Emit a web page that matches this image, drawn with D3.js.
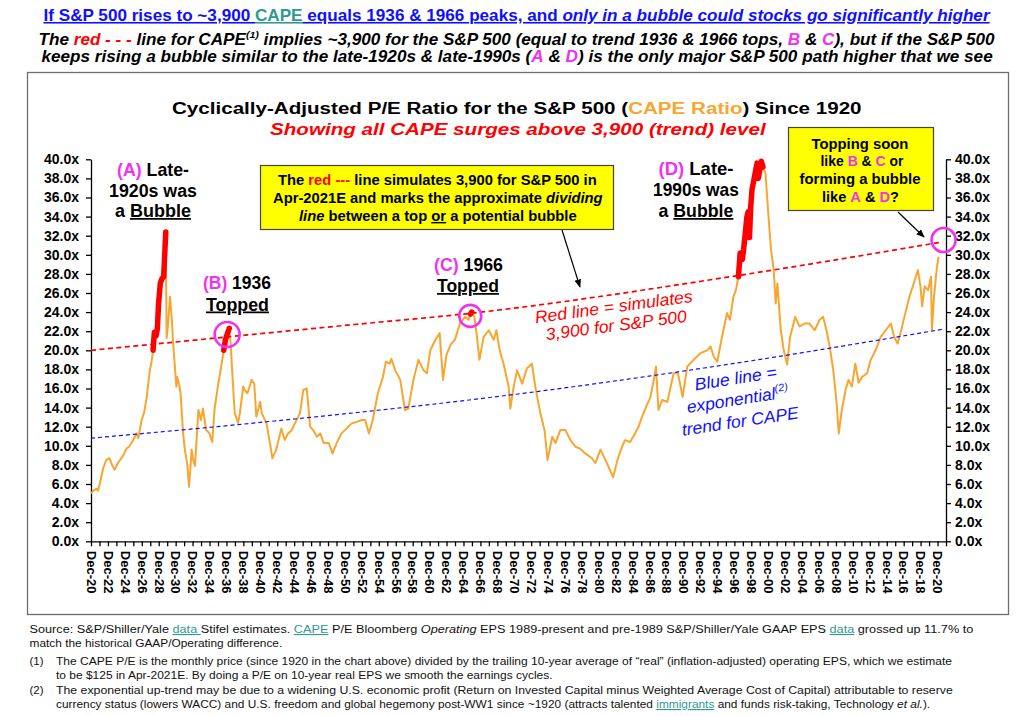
<!DOCTYPE html>
<html><head><meta charset="utf-8">
<script src="https://cdn.jsdelivr.net/npm/d3@7"></script>
<style>body{margin:0;background:#fff;}svg{display:block;}</style>
</head><body>
<svg id="c" width="1032" height="716"></svg>
<script>
// ---------------- DATA ----------------
const capeYears = [1920.92,1921.2,1921.55,1921.75,1922.0,1922.34,1922.7,1923.1,1923.4,1923.7,1924.1,1924.5,1924.8,1925.1,1925.4,1925.7,1926.0,1926.3,1926.5,1926.9,1927.2,1927.5,1927.85,1928.1,1928.25,1928.4,1928.6,1928.75,1928.9,1929.1,1929.3,1929.5,1929.65,1929.75,1929.85,1930.0,1930.25,1930.45,1930.6,1930.85,1931.0,1931.1,1931.3,1931.5,1931.8,1932.0,1932.3,1932.5,1932.65,1932.8,1933.0,1933.2,1933.45,1933.6,1933.9,1934.15,1934.5,1934.9,1935.25,1935.5,1935.95,1936.3,1936.6,1936.8,1937.05,1937.25,1937.45,1937.55,1937.75,1937.9,1938.3,1938.5,1938.9,1939.1,1939.4,1939.9,1940.2,1940.45,1940.9,1941.1,1941.65,1942.05,1942.35,1942.8,1943.4,1943.8,1944.2,1944.6,1945.0,1945.6,1946.0,1946.4,1946.6,1946.8,1947.2,1947.6,1948.0,1948.4,1949.0,1949.45,1949.95,1950.5,1951.1,1951.7,1952.3,1952.9,1953.3,1953.75,1954.2,1954.8,1955.4,1955.75,1956.2,1956.4,1956.85,1957.45,1958.0,1958.4,1959.0,1959.6,1960.2,1960.6,1961.0,1961.6,1962.1,1962.5,1962.9,1963.4,1963.9,1964.5,1965.1,1965.5,1965.75,1965.9,1966.2,1966.5,1966.8,1967.3,1967.9,1968.5,1968.8,1969.2,1969.65,1970.25,1970.45,1970.85,1971.25,1971.85,1972.4,1973.0,1973.4,1974.0,1974.5,1974.85,1975.4,1975.8,1976.35,1976.95,1977.55,1978.15,1978.7,1979.3,1980.1,1980.5,1981.1,1981.7,1982.2,1982.6,1983.1,1983.65,1984.0,1984.6,1985.0,1985.6,1986.0,1986.4,1987.0,1987.4,1987.65,1987.95,1988.4,1989.0,1989.4,1989.75,1990.25,1990.5,1990.8,1991.35,1992.1,1992.9,1993.7,1994.1,1994.5,1994.9,1995.45,1996.05,1996.4,1996.8,1997.1,1997.4,1997.6,1997.85,1998.0,1998.2,1998.4,1998.55,1998.7,1998.85,1999.0,1999.3,1999.6,1999.75,2000.1,2000.3,2000.6,2000.95,2001.25,2001.55,2001.8,2002.0,2002.4,2002.75,2003.15,2003.5,2004.1,2004.6,2005.2,2005.8,2006.4,2007.0,2007.4,2007.8,2008.25,2008.6,2009.0,2009.25,2009.6,2010.05,2010.4,2010.8,2011.2,2011.6,2012.0,2012.6,2013.0,2013.6,2014.2,2014.8,2015.4,2015.8,2016.2,2016.6,2017.0,2017.6,2018.1,2018.6,2018.9,2019.1,2019.4,2019.8,2020.15,2020.25,2020.5,2020.85,2021.05];
const capeValues = [5.0,5.3,5.5,5.3,6.2,7.6,8.5,8.7,8.0,7.5,8.2,8.7,9.1,9.7,9.9,10.3,10.8,11.3,10.8,12.7,13.5,15.1,17.8,19.0,20.0,21.9,21.5,22.2,24.9,27.0,27.5,27.7,30.5,32.4,21.3,22.5,25.6,23.5,21.0,18.0,16.2,17.2,16.5,15.5,11.3,9.6,8.0,5.7,7.5,9.6,8.5,7.9,11.5,13.75,12.7,13.9,11.7,11.3,10.4,13.75,16.5,18.3,20.0,21.1,21.8,22.3,20.2,18.5,15.5,13.4,12.4,13.4,16.2,15.8,15.5,16.9,16.5,13.05,14.6,13.4,12.35,10.3,8.7,9.6,11.8,10.6,11.3,11.6,12.35,13.4,15.85,16.0,14.1,12.0,11.6,10.95,11.3,10.3,10.3,9.2,10.3,11.3,11.8,12.35,12.5,12.7,12.7,11.3,12.7,15.5,17.2,18.8,18.6,19.1,17.9,16.9,13.75,13.9,16.9,19.0,17.9,17.6,20.0,21.1,21.8,16.9,19.5,20.6,21.1,22.8,23.5,23.2,23.8,24.0,23.5,21.5,19.0,21.4,22.1,21.1,22.1,20.0,18.6,16.2,13.9,16.2,17.9,16.5,18.1,18.6,16.2,13.4,11.6,8.5,10.95,10.3,11.65,11.65,10.6,9.9,9.7,9.2,8.7,8.2,9.6,8.5,7.5,6.7,8.5,9.9,10.6,10.4,11.0,12.0,13.0,13.9,15.1,16.9,18.3,13.75,14.8,14.6,16.2,17.6,17.6,16.5,15.1,18.3,19.0,19.7,20.0,20.4,19.3,18.8,21.4,23.9,23.2,25.6,26.3,27.7,30.2,29.5,30.5,32.2,34.0,34.5,31.8,35.0,36.8,38.2,39.6,38.0,39.8,39.2,38.5,34.0,30.5,28.6,24.9,27.0,22.1,20.0,18.5,21.4,23.5,22.5,22.8,22.8,22.1,23.2,23.5,22.1,20.0,17.9,14.45,11.3,13.7,15.85,16.9,16.2,18.6,16.6,17.2,17.6,18.95,20.0,21.4,22.1,22.8,21.4,20.7,22.0,23.5,25.6,27.0,28.4,26.7,24.6,26.7,26.3,27.7,22.1,25.6,28.75,29.8];

// red dashed "3,900 for S&P 500" line and blue dashed exponential trend
const redTrendYears  = [1920.92, 1952.0, 1966.0, 1996.4, 2021.5];
const redTrendValues = [20.0, 22.7, 23.9, 27.7, 31.35];
const blueTrendYears  = [1920.92, 1939.8, 1972.9, 1996.7, 2021.5];
const blueTrendValues = [10.8, 12.35, 15.6, 18.6, 22.2];

// bubble / top periods drawn in thick red
const bubblePeriods = [[1928.25, 1929.75], [1936.6, 1937.25], [1965.75, 1965.92], [1997.4, 2000.3]];
// highlighted tops (circles)
const circleYears  = [1937.0, 1965.72, 2021.63];
const circleValues = [21.65, 23.6, 31.55];

const yTicks = [0,2,4,6,8,10,12,14,16,18,20,22,24,26,28,30,32,34,36,38,40];
const xTickYears = d3.range(1920, 2022);   // every December
const xLabelYears = d3.range(1920, 2021, 2);

// ---------------- DRAW ----------------
const F = "'Liberation Sans',Arial,Helvetica,sans-serif";
const MAG = "#F032F0", BLUE = "#1010FF", TEAL = "#2E9A90", RED = "#FF0000", ORANGE = "#F8A630";
const svg = d3.select('#c');
svg.append('rect').attr('width',1032).attr('height',716).attr('fill','#fff');

const defs = svg.append('defs');
defs.append('marker').attr('id','arr').attr('viewBox','0 0 10 10').attr('refX',9).attr('refY',5)
  .attr('markerWidth',7).attr('markerHeight',7).attr('orient','auto-start-reverse')
  .append('path').attr('d','M0,1L10,5L0,9z').attr('fill','#000');

// styled, width-fitted text line
function fitLine(parts, o) {
  const t = svg.append('text').attr('x',0).attr('y',0)
    .style('font-family', o.family || F).style('font-size', o.size + 'px')
    .style('font-weight', o.weight || 'normal').style('font-style', o.style || 'normal')
    .attr('fill', o.fill || '#000');
  let lift = 0;
  parts.forEach(p => {
    const ts = t.append('tspan').text(p.t);
    if (p.fill) ts.attr('fill', p.fill);
    if (p.style) ts.style('font-style', p.style);
    if (p.weight) ts.style('font-weight', p.weight);
    if (p.deco) ts.style('text-decoration', p.deco);
    if (p.sup) { ts.style('font-size', (o.size * 0.62) + 'px').attr('dy', -o.size * 0.42); lift = o.size * 0.42; }
    else if (lift) { ts.attr('dy', lift); lift = 0; }
  });
  const w = t.node().getComputedTextLength();
  const s = o.width ? o.width / w : 1;
  const tw = w * s;
  const x0 = o.anchor === 'start' ? o.x : o.x - tw / 2;
  t.attr('transform', `translate(${x0},${o.y}) scale(${s},1)`);
  return t;
}

// chart frame
svg.append('rect').attr('x',27.5).attr('y',72.5).attr('width',981).attr('height',542)
  .attr('fill','none').attr('stroke','#6e6e6e').attr('stroke-width',1.3);

// header
fitLine([
  {t:'If S&P 500 rises to ~3,900 ', fill:BLUE, deco:'underline'},
  {t:'CAPE', fill:TEAL, deco:'underline'},
  {t:' equals 1936 & 1966 peaks, and ', fill:BLUE, deco:'underline'},
  {t:'only in a bubble could stocks go significantly higher', fill:BLUE, style:'italic', deco:'underline'}
], {x:517, y:21, size:16, weight:'bold', width:947});
fitLine([
  {t:'The '},{t:'red - - -', fill:RED},{t:' line for CAPE'},{t:'(1)', sup:true},
  {t:' implies ~3,900 for the S&P 500 (equal to trend 1936 & 1966 tops, '},
  {t:'B', fill:MAG},{t:' & '},{t:'C', fill:MAG},{t:'), but if the S&P 500'}
], {x:517, y:45, size:16, weight:'bold', style:'italic', width:957});
fitLine([
  {t:'keeps rising a bubble similar to the late-1920s & late-1990s ('},
  {t:'A', fill:MAG},{t:' & '},{t:'D', fill:MAG},{t:') is the only major S&P 500 path higher that we see'}
], {x:517, y:62, size:16, weight:'bold', style:'italic', width:951});

// titles
fitLine([{t:'Cyclically-Adjusted P/E Ratio for the S&P 500 ('},{t:'CAPE Ratio', fill:ORANGE},{t:') Since 1920'}],
  {x:517, y:113.5, size:17, weight:'bold', width:690});
fitLine([{t:'Showing all CAPE surges above 3,900 (trend) level'}],
  {x:518, y:134.5, size:16, weight:'bold', style:'italic', fill:RED, width:496});

// scales
const x = d3.scaleLinear().domain([1920.917, 2021.917]).range([91, 946]);
const y = d3.scaleLinear().domain([0, 40]).range([541.3, 159.3]);

function styleAxis(g) {
  g.selectAll('path,line').attr('stroke','#000').attr('stroke-width',1.3);
  g.selectAll('text').style('font-family',F).style('font-weight','bold').style('font-size','14px').attr('fill','#000');
}
const gl = svg.append('g').attr('transform','translate(91,0)')
  .call(d3.axisLeft(y).tickValues(yTicks).tickSize(5).tickSizeOuter(0).tickPadding(7).tickFormat(d => d.toFixed(1) + 'x'));
styleAxis(gl);
const gr = svg.append('g').attr('transform','translate(946,0)')
  .call(d3.axisRight(y).tickValues(yTicks).tickSize(5).tickSizeOuter(0).tickPadding(4).tickFormat(d => d.toFixed(1) + 'x'));
styleAxis(gr);
const labelSet = new Set(xLabelYears);
const gb = svg.append('g').attr('transform','translate(0,541.3)')
  .call(d3.axisBottom(x).tickValues(xTickYears.map(v => v + 0.917)).tickSize(5).tickSizeOuter(0)
    .tickFormat(d => { const yr = Math.round(d - 0.917); return labelSet.has(yr) ? 'Dec-' + String(yr % 100).padStart(2,'0') : ''; }));
styleAxis(gb);
gb.selectAll('text').style('font-size','13px').attr('transform','rotate(90)').attr('text-anchor','start')
  .attr('x', 9.5).attr('y', 0).attr('dy','0.36em');

// series
const capeData = capeYears.map((yr, i) => [yr, capeValues[i]]);
const line = d3.line().x(d => x(d[0])).y(d => y(d[1]));
svg.append('path').datum(capeData).attr('d', line).attr('fill','none').attr('stroke',ORANGE)
  .attr('stroke-width',2).attr('stroke-linejoin','round');

const smooth = d3.line().x(d => x(d[0])).y(d => y(d[1])).curve(d3.curveMonotoneX);
svg.append('path').datum(blueTrendYears.map((v,i)=>[v, blueTrendValues[i]])).attr('d', smooth)
  .attr('fill','none').attr('stroke',BLUE).attr('stroke-width',1.2).attr('stroke-dasharray','4,3');
svg.append('path').datum(redTrendYears.map((v,i)=>[v, redTrendValues[i]])).attr('d', smooth)
  .attr('fill','none').attr('stroke',RED).attr('stroke-width',1.7).attr('stroke-dasharray','5,3.5');

bubblePeriods.forEach(([a, b]) => {
  const seg = capeData.filter(d => d[0] >= a - 1e-6 && d[0] <= b + 1e-6);
  svg.append('path').datum(seg).attr('d', line).attr('fill','none').attr('stroke',RED)
    .attr('stroke-width',5.5).attr('stroke-linecap','round').attr('stroke-linejoin','round');
});

const radii = [12.5, 11, 12];
circleYears.forEach((yr, i) => {
  svg.append('circle').attr('cx', x(yr)).attr('cy', y(circleValues[i])).attr('r', radii[i])
    .attr('fill','none').attr('stroke',MAG).attr('stroke-width',2.6);
});

// annotation labels
const AS = 17.5;
fitLine([{t:'(A)', fill:MAG},{t:' Late-'}], {x:153, y:176, size:AS, weight:'bold', width:72});
fitLine([{t:'1920s was'}], {x:153, y:196.5, size:AS, weight:'bold', width:88});
fitLine([{t:'a '},{t:'Bubble', deco:'underline'}], {x:153, y:217, size:AS, weight:'bold', width:76});
fitLine([{t:'(B)', fill:MAG},{t:' 1936'}], {x:237, y:289, size:AS, weight:'bold', width:68});
fitLine([{t:'Topped', deco:'underline'}], {x:237.5, y:310.5, size:AS, weight:'bold', width:63});
fitLine([{t:'(C)', fill:MAG},{t:' 1966'}], {x:468.5, y:271, size:AS, weight:'bold', width:69});
fitLine([{t:'Topped', deco:'underline'}], {x:468, y:292, size:AS, weight:'bold', width:62});
fitLine([{t:'(D)', fill:MAG},{t:' Late-'}], {x:696, y:175, size:AS, weight:'bold', width:75});
fitLine([{t:'1990s was'}], {x:696, y:196, size:AS, weight:'bold', width:86});
fitLine([{t:'a '},{t:'Bubble', deco:'underline'}], {x:696, y:217, size:AS, weight:'bold', width:75});

// yellow boxes
svg.append('rect').attr('x',260.5).attr('y',165.5).attr('width',353).attr('height',64)
  .attr('fill','#FFFF00').attr('stroke','#444').attr('stroke-width',1.2);
fitLine([{t:'The '},{t:'red ---', fill:RED},{t:' line simulates 3,900 for S&P 500 in'}], {x:437.5, y:185, size:14, weight:'bold', width:319});
fitLine([{t:'Apr-2021E and marks the approximate '},{t:'dividing', style:'italic'}], {x:438, y:203, size:14, weight:'bold', width:330});
fitLine([{t:'line', style:'italic'},{t:' between a top '},{t:'or', deco:'underline'},{t:' a potential bubble'}], {x:438, y:221, size:14, weight:'bold', width:278});

svg.append('rect').attr('x',788.5).attr('y',127.5).attr('width',145).attr('height',83)
  .attr('fill','#FFFF00').attr('stroke','#444').attr('stroke-width',1.2);
fitLine([{t:'Topping soon'}], {x:860, y:148.5, size:14.5, weight:'bold', width:97});
fitLine([{t:'like '},{t:'B', fill:MAG},{t:' & '},{t:'C', fill:MAG},{t:' or'}], {x:862, y:166, size:14.5, weight:'bold', width:83});
fitLine([{t:'forming a bubble'}], {x:860, y:184, size:14.5, weight:'bold', width:121});
fitLine([{t:'like '},{t:'A', fill:MAG},{t:' & '},{t:'D', fill:MAG},{t:'?'}], {x:860, y:201.5, size:14.5, weight:'bold', width:76});

// arrows
svg.append('line').attr('x1',562).attr('y1',230).attr('x2',580).attr('y2',287)
  .attr('stroke','#000').attr('stroke-width',1.2).attr('marker-end','url(#arr)');
svg.append('line').attr('x1',898).attr('y1',212).attr('x2',924).attr('y2',237)
  .attr('stroke','#000').attr('stroke-width',1.2).attr('marker-end','url(#arr)');

// rotated line labels
function rotLabel(parts, cx, cy, ang, size, fill, width) {
  const t = fitLine(parts, {x:0, y:0, size:size, style:'italic', fill:fill, width:width});
  const tr = t.attr('transform');
  t.attr('transform', `translate(${cx},${cy}) rotate(${ang}) ` + tr);
}
rotLabel([{t:'Red line = simulates'}], 614.5, 312.5, -7.8, 17, RED, 159);
rotLabel([{t:'3,900 for S&P 500'}], 617, 331, -7.5, 17, RED, 142);
rotLabel([{t:'Blue line ='}], 736.5, 384, -9, 17, BLUE, 83);
rotLabel([{t:'exponential'},{t:'(2)', sup:true}], 738.5, 405, -9, 17, BLUE, 103);
rotLabel([{t:'trend for CAPE'}], 741, 427, -8.5, 17, BLUE, 118);

// footer
const NF = "'Liberation Sans Narrow','Arial Narrow','Liberation Sans',Arial,sans-serif";
const fo = (parts, xx, yy, w) => fitLine(parts, {x:xx, y:yy, size:11.5, family:NF, fill:'#111', anchor:'start', width:w});
fo([{t:'Source: S&P/Shiller/Yale '},{t:'data ', fill:TEAL, deco:'underline'},{t:'Stifel estimates. '},{t:'CAPE', fill:TEAL, deco:'underline'},
    {t:' P/E Bloomberg '},{t:'Operating', style:'italic'},{t:' EPS 1989-present and pre-1989 S&P/Shiller/Yale GAAP EPS '},
    {t:'data', fill:TEAL, deco:'underline'},{t:' grossed up 11.7% to'}], 29.5, 633, 944);
fo([{t:'match the historical GAAP/Operating difference.'}], 29.5, 647, 253);
fo([{t:'(1)'}], 29.5, 665, 14);
fo([{t:'The CAPE P/E  is the monthly price (since 1920 in the chart above) divided by the trailing 10-year average of \u201creal\u201d  (inflation-adjusted) operating EPS, which we estimate'}], 56, 665, 897);
fo([{t:'to be $125 in Apr-2021E. By doing a P/E on 10-year real EPS we smooth the earnings cycles.'}], 56, 679, 497);
fo([{t:'(2)'}], 29.5, 694, 14);
fo([{t:'The exponential up-trend may be due to a widening U.S. economic profit (Return on Invested Capital minus Weighted Average Cost of Capital) attributable to reserve'}], 56, 694, 898);
fo([{t:'currency status (lowers WACC) and U.S. freedom and global hegemony post-WW1 since ~1920 (attracts talented '},{t:'immigrants', fill:TEAL, deco:'underline'},
    {t:' and funds risk-taking, Technology '},{t:'et al.', style:'italic'},{t:').'}], 56, 708, 875);
</script>
</body></html>
